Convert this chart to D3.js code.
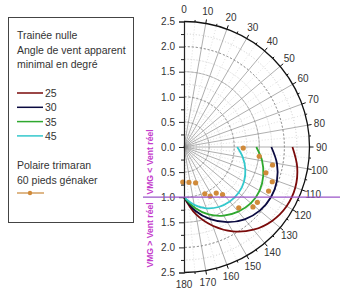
<!doctype html>
<html lang="fr">
    <head>
        <meta charset="utf-8">
        <title>Polaire VMG</title>
        <script src="https://cdn.jsdelivr.net/npm/d3@7"></script>
        <style>
            body { margin: 0; background: #fff; }
            text { font-family: "Liberation Sans", Arial, sans-serif; }
        </style>
    </head>
    <body>
        <script>
            // angles (degres) et rayons de la grille
            var angleTicks = [0, 10, 20, 30, 40, 50, 60, 70, 80, 90, 100, 110, 120, 130, 140, 150, 160, 170, 180];
            var radiusTicks = [-2.5, -2.0, -1.5, -1.0, -0.5, 0.0, 0.5, 1.0, 1.5, 2.0, 2.5];

            // courbes de trainee nulle, [angle vent reel, rapport]
            var curve25 = [[90, 2.16], [100, 2.29], [110, 2.36], [120, 2.36], [130, 2.29], [140, 2.15], [150, 1.94], [160, 1.67], [170, 1.36], [180, 1.0]];
            var curve30 = [[90, 1.74], [100, 1.88], [110, 1.97], [120, 2.0], [130, 1.97], [140, 1.88], [150, 1.73], [160, 1.53], [170, 1.29], [180, 1.0]];
            var curve35 = [[90, 1.44], [100, 1.58], [110, 1.68], [120, 1.74], [130, 1.74], [140, 1.68], [150, 1.58], [160, 1.43], [170, 1.23], [180, 1.0]];
            var curve45 = [[90, 1.06], [100, 1.19], [110, 1.30], [120, 1.38], [130, 1.42], [140, 1.42], [150, 1.38], [160, 1.30], [170, 1.17], [180, 1.0]];
            var curveNames = ["25", "30", "35", "45"];
            var curveColors = ["#7a0a0a", "#0a0a40", "#2fa82f", "#33c8cc"];

            // polaire trimaran 60 pieds genaker
            var polarPoints = [[91, 1.18], [97, 1.51], [101.5, 1.80], [107.5, 1.71], [111.5, 1.89], [117.5, 1.90],
                               [127, 1.83], [131, 1.82], [138, 1.63], [141, 1.22], [145, 1.12], [152, 1.11],
                               [156, 1.02], [162, 0.75], [172, 0.71], [182, 0.70]];

            var svgW = 344, svgH = 299;
            var cx = 184, cy = 147, R = 125.5;

            var svg = d3.select("body").append("svg")
                        .attr("width", svgW)
                        .attr("height", svgH);

            var rScale = d3.scaleLinear().domain([0, 2.5]).range([0, R]);
            var aScale = d3.scaleLinear().domain([0, 180]).range([0, Math.PI]);
            var yScale = d3.scaleLinear().domain([2.5, -2.5]).range([cy - R, cy + R]);

            var polar = svg.append("g").attr("transform", "translate(" + cx + "," + cy + ")");

            var arc = d3.arc().startAngle(0).endAngle(Math.PI);

            // arcs fins tous les 0.25
            polar.selectAll(".minorArc")
                 .data(d3.range(0.25, 2.5, 0.5))
                 .enter()
                 .append("path")
                 .attr("d", d => arc({innerRadius: rScale(d), outerRadius: rScale(d)}))
                 .attr("fill", "none")
                 .attr("stroke", "#d4d4d4")
                 .attr("stroke-width", 0.7)
                 .attr("stroke-dasharray", "1,2");

            polar.selectAll(".majorArc")
                 .data([0.5, 1.0, 1.5, 2.0])
                 .enter()
                 .append("path")
                 .attr("d", d => arc({innerRadius: rScale(d), outerRadius: rScale(d)}))
                 .attr("fill", "none")
                 .attr("stroke", "#8a8a8a")
                 .attr("stroke-width", 0.7)
                 .attr("stroke-dasharray", "2,2");

            // rayons pointilles a 5 degres
            polar.selectAll(".minorSpoke")
                 .data(d3.range(5, 180, 10))
                 .enter()
                 .append("line")
                 .attr("x2", d => rScale(2.5) * Math.sin(aScale(d)))
                 .attr("y2", d => -rScale(2.5) * Math.cos(aScale(d)))
                 .attr("stroke", "#d4d4d4")
                 .attr("stroke-width", 0.7)
                 .attr("stroke-dasharray", "1,2");

            polar.selectAll(".spoke")
                 .data(angleTicks.slice(1, -1))
                 .enter()
                 .append("line")
                 .attr("x2", d => rScale(2.5) * Math.sin(aScale(d)))
                 .attr("y2", d => -rScale(2.5) * Math.cos(aScale(d)))
                 .attr("stroke", "#8c8c8c")
                 .attr("stroke-width", 0.7);

            // bord exterieur et graduations
            polar.append("path")
                 .attr("d", arc({innerRadius: R, outerRadius: R}))
                 .attr("fill", "none")
                 .attr("stroke", "#111")
                 .attr("stroke-width", 1.3);

            polar.selectAll(".rimTick")
                 .data(d3.range(5, 180, 5))
                 .enter()
                 .append("line")
                 .attr("x1", d => R * Math.sin(aScale(d)))
                 .attr("y1", d => -R * Math.cos(aScale(d)))
                 .attr("x2", d => (R + (d % 10 === 0 ? 4 : 2)) * Math.sin(aScale(d)))
                 .attr("y2", d => -(R + (d % 10 === 0 ? 4 : 2)) * Math.cos(aScale(d)))
                 .attr("stroke", "#111")
                 .attr("stroke-width", 1);

            polar.selectAll(".angleLabel")
                 .data(angleTicks)
                 .enter()
                 .append("text")
                 .text(d => d)
                 .attr("x", d => (R + 12) * Math.sin(aScale(d)))
                 .attr("y", d => -(R + 12) * Math.cos(aScale(d)))
                 .attr("text-anchor", "middle")
                 .attr("dominant-baseline", "central")
                 .attr("font-size", "10px")
                 .attr("fill", "#333");

            // axe vertical
            var yAxis = d3.axisLeft(yScale)
                          .tickValues(radiusTicks)
                          .tickSize(5)
                          .tickPadding(4)
                          .tickFormat(d => Math.abs(d).toFixed(1));

            var yMinor = d3.axisLeft(yScale)
                           .tickValues(d3.range(-2.25, 2.5, 0.5))
                           .tickSize(3)
                           .tickFormat("");

            var gy = svg.append("g")
                        .attr("transform", "translate(" + cx + ",0)")
                        .call(yAxis);
            svg.append("g")
               .attr("transform", "translate(" + cx + ",0)")
               .call(yMinor)
               .select(".domain").remove();

            svg.selectAll(".tick line").attr("stroke", "#222");
            gy.select(".domain").attr("stroke", "#222").attr("stroke-width", 1.2);
            gy.selectAll("text")
              .attr("font-size", "10px")
              .attr("fill", "#333")
              .attr("font-family", "Liberation Sans, Arial, sans-serif");

            // courbes
            var radialLine = d3.lineRadial()
                               .angle(d => aScale(d[0]))
                               .radius(d => rScale(d[1]))
                               .curve(d3.curveCardinal);

            [curve25, curve30, curve35, curve45].forEach(function(c, i) {
                polar.append("path")
                     .attr("d", radialLine(c))
                     .attr("fill", "none")
                     .attr("stroke", curveColors[i])
                     .attr("stroke-width", 1.8);
            });

            // ligne VMG = vent reel
            svg.append("line")
               .attr("x1", 143)
               .attr("x2", 340)
               .attr("y1", yScale(-1.0))
               .attr("y2", yScale(-1.0))
               .attr("stroke", "#9a55c8")
               .attr("stroke-width", 1.2);

            polar.selectAll(".pt")
                 .data(polarPoints)
                 .enter()
                 .append("circle")
                 .attr("cx", d => rScale(d[1]) * Math.sin(aScale(d[0])))
                 .attr("cy", d => -rScale(d[1]) * Math.cos(aScale(d[0])))
                 .attr("r", 2.6)
                 .attr("fill", "#d08a3a");

            svg.append("text")
               .text("VMG < Vent réel")
               .attr("transform", "translate(153,162) rotate(-90)")
               .attr("text-anchor", "middle")
               .attr("font-size", "8.6px")
               .attr("font-weight", "bold")
               .attr("fill", "#c43ccc");

            svg.append("text")
               .text("VMG > Vent réel")
               .attr("transform", "translate(153,235) rotate(-90)")
               .attr("text-anchor", "middle")
               .attr("font-size", "8.6px")
               .attr("font-weight", "bold")
               .attr("fill", "#c43ccc");

            // legende
            var legend = svg.append("g");
            legend.append("rect")
                  .attr("x", 8.5).attr("y", 17.5)
                  .attr("width", 125).attr("height", 205)
                  .attr("fill", "none")
                  .attr("stroke", "#444");

            var lgText = ["Trainée nulle", "Angle de vent apparent", "minimal en degré"];
            legend.selectAll(".lt")
                  .data(lgText)
                  .enter()
                  .append("text")
                  .text(d => d)
                  .attr("x", 17)
                  .attr("y", (d, i) => 39 + i * 14.5)
                  .attr("font-size", "10.5px")
                  .attr("fill", "#333");

            curveNames.forEach(function(n, i) {
                var y = 93 + i * 14.3;
                legend.append("line")
                      .attr("x1", 17).attr("x2", 43)
                      .attr("y1", y).attr("y2", y)
                      .attr("stroke", curveColors[i])
                      .attr("stroke-width", 1.5);
                legend.append("text")
                      .text(n)
                      .attr("x", 45)
                      .attr("y", y + 4)
                      .attr("font-size", "10.5px")
                      .attr("fill", "#333");
            });

            legend.selectAll(".pt2")
                  .data(["Polaire trimaran", "60 pieds génaker"])
                  .enter()
                  .append("text")
                  .text(d => d)
                  .attr("x", 17)
                  .attr("y", (d, i) => 169 + i * 14.5)
                  .attr("font-size", "10.5px")
                  .attr("fill", "#333");

            legend.append("line")
                  .attr("x1", 17).attr("x2", 44)
                  .attr("y1", 193).attr("y2", 193)
                  .attr("stroke", "#c8883a")
                  .attr("stroke-width", 1.2);
            legend.append("circle")
                  .attr("cx", 30).attr("cy", 193).attr("r", 2.2)
                  .attr("fill", "#d08a3a");
        </script>
    </body>
</html>
